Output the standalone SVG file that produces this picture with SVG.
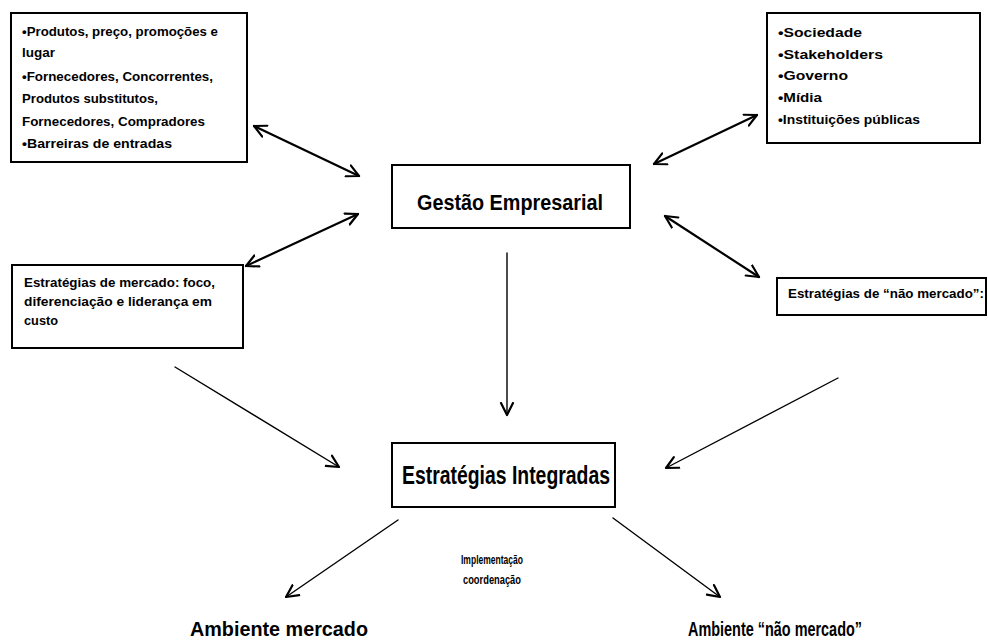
<svg xmlns="http://www.w3.org/2000/svg" width="988" height="643" viewBox="0 0 988 643">
<style>
.box{fill:#fff;stroke:#000;stroke-width:2}
.t{font-family:"Liberation Sans",Arial,sans-serif;font-weight:bold;fill:#000}
.s{font-size:13px}
.m{font-size:22px}
.b{font-size:21px}
.l{font-size:25px}
.c{fill:none;stroke:#000;stroke-linecap:round}
.thick{stroke-width:2.2}
.thin{stroke-width:1.4}
</style>
<defs>
<marker id="ah" markerUnits="userSpaceOnUse" markerWidth="16" markerHeight="16" refX="13" refY="7" orient="auto-start-reverse" viewBox="0 0 16 14">
<path d="M1,1 L13,7 L1,13" fill="none" stroke="#000" stroke-width="2.2" stroke-linecap="round" stroke-linejoin="round"/>
</marker>
</defs>
<rect width="988" height="643" fill="#fff"/>
<g id="connectors">
<line class="c thick" x1="254" y1="126" x2="359" y2="176" marker-start="url(#ah)" marker-end="url(#ah)"/>
<line class="c thick" x1="246" y1="266" x2="358" y2="214" marker-start="url(#ah)" marker-end="url(#ah)"/>
<line class="c thick" x1="654" y1="164" x2="757" y2="115" marker-start="url(#ah)" marker-end="url(#ah)"/>
<line class="c thick" x1="665" y1="216" x2="759" y2="277" marker-start="url(#ah)" marker-end="url(#ah)"/>
<line class="c thin" x1="175" y1="367" x2="339" y2="467" marker-end="url(#ah)"/>
<line class="c thin" x1="838" y1="378" x2="666" y2="468" marker-end="url(#ah)"/>
<line class="c thin" x1="507" y1="253" x2="507" y2="415" marker-end="url(#ah)"/>
<line class="c thin" x1="398" y1="520" x2="286" y2="597" marker-end="url(#ah)"/>
<line class="c thin" x1="613" y1="518" x2="720" y2="597" marker-end="url(#ah)"/>
</g>
<g id="mercado-fatores">
<rect class="box" x="11" y="13" width="236" height="149"/>
<text class="t s" x="22" y="36" textLength="196" lengthAdjust="spacingAndGlyphs">•Produtos, preço, promoções e</text>
<text class="t s" x="22" y="57" textLength="33" lengthAdjust="spacingAndGlyphs">lugar</text>
<text class="t s" x="22" y="81" textLength="191" lengthAdjust="spacingAndGlyphs">•Fornecedores, Concorrentes,</text>
<text class="t s" x="22" y="103" textLength="136" lengthAdjust="spacingAndGlyphs">Produtos substitutos,</text>
<text class="t s" x="22" y="126" textLength="183" lengthAdjust="spacingAndGlyphs">Fornecedores, Compradores</text>
<text class="t s" x="22" y="148" textLength="150" lengthAdjust="spacingAndGlyphs">•Barreiras de entradas</text>
</g>
<g id="nao-mercado-fatores">
<rect class="box" x="767" y="13" width="213" height="130"/>
<text class="t s" x="778" y="37" textLength="84" lengthAdjust="spacingAndGlyphs">•Sociedade</text>
<text class="t s" x="778" y="59" textLength="105" lengthAdjust="spacingAndGlyphs">•Stakeholders</text>
<text class="t s" x="778" y="80" textLength="70" lengthAdjust="spacingAndGlyphs">•Governo</text>
<text class="t s" x="778" y="102" textLength="44" lengthAdjust="spacingAndGlyphs">•Mídia</text>
<text class="t s" x="778" y="124" textLength="142" lengthAdjust="spacingAndGlyphs">•Instituições públicas</text>
</g>
<g id="gestao">
<rect class="box" x="392" y="165" width="238" height="63"/>
<text class="t m" x="417" y="210" textLength="186" lengthAdjust="spacingAndGlyphs">Gestão Empresarial</text>
</g>
<g id="estrategias-mercado">
<rect class="box" x="12" y="265" width="231" height="83"/>
<text class="t s" x="24" y="287" textLength="191" lengthAdjust="spacingAndGlyphs">Estratégias de mercado: foco,</text>
<text class="t s" x="24" y="306" textLength="188" lengthAdjust="spacingAndGlyphs">diferenciação e liderança em</text>
<text class="t s" x="24" y="325" textLength="34" lengthAdjust="spacingAndGlyphs">custo</text>
</g>
<g id="estrategias-nao-mercado">
<rect class="box" x="777" y="278" width="209" height="37"/>
<text class="t s" x="788" y="298" textLength="196" lengthAdjust="spacingAndGlyphs">Estratégias de “não mercado”:</text>
</g>
<g id="integradas">
<rect class="box" x="392" y="443" width="223" height="64"/>
<text class="t l" x="402" y="484" textLength="208" lengthAdjust="spacingAndGlyphs">Estratégias Integradas</text>
</g>
<g id="implementacao">
<text class="t s" x="492" y="564" text-anchor="middle" textLength="62" lengthAdjust="spacingAndGlyphs">Implementação</text>
<text class="t s" x="492" y="584" text-anchor="middle" textLength="58" lengthAdjust="spacingAndGlyphs">coordenação</text>
</g>
<g id="ambiente-mercado">
<text class="t b" x="190" y="636" textLength="178" lengthAdjust="spacingAndGlyphs">Ambiente mercado</text>
</g>
<g id="ambiente-nao-mercado">
<text class="t b" x="688" y="636" textLength="174" lengthAdjust="spacingAndGlyphs">Ambiente “não mercado”</text>
</g>
</svg>
